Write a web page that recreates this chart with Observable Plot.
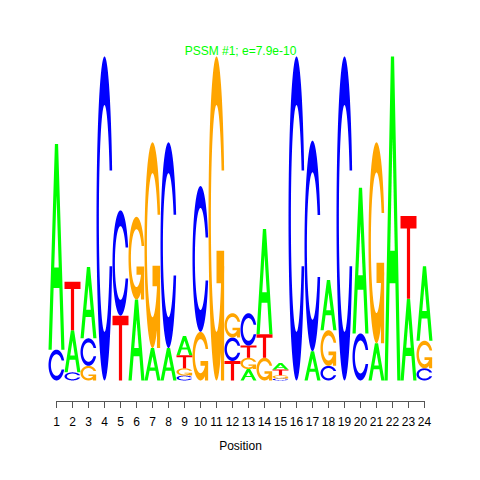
<!DOCTYPE html>
<html><head><meta charset="utf-8">
<script src="https://cdn.jsdelivr.net/npm/d3@7"></script>
<script src="https://cdn.jsdelivr.net/npm/@observablehq/plot@0.6"></script>
<style>body{margin:0;background:#fff}#chart svg{display:block}</style>
</head><body><div id="chart"></div>
<script>
// ---- data (information content in bits, per position) ----
const title = "PSSM #1; e=7.9e-10";
const xLabel = "Position";
const positions = d3.range(1, 25);
const bitsA = [1.27, 0.26, 0.44, 0, 0, 0.50, 0.20, 0.20, 0.12, 0, 0, 0, 0.07, 0.65, 0.04, 0, 0.18, 0.31, 0, 0.90, 0.23, 2.0, 0.505, 0.46];
const bitsC = [0.19, 0.05, 0.17, 2.0, 0.65, 0, 0, 1.27, 0.03, 0.90, 0, 0.145, 0.20, 0, 0.012, 2.0, 1.30, 0.09, 2.0, 0.29, 0, 0, 0, 0.075];
const bitsG = [0, 0, 0.09, 0, 0, 0.51, 1.27, 0, 0.045, 0.30, 2.0, 0.15, 0.07, 0.14, 0.02, 0, 0, 0.22, 0, 0, 1.24, 0, 0, 0.17];
const bitsT = [0, 0.30, 0, 0, 0.40, 0, 0, 0, 0.08, 0, 0, 0.12, 0.075, 0.145, 0.035, 0, 0, 0, 0, 0, 0, 0, 0.51, 0];
const letters = ["A", "C", "G", "T"];
const letterColors = {A: "#00FF00", C: "#0000FF", G: "#FFA500", T: "#FF0000"};
const yMax = 2;
const yMin = -0.13;

// ---- glyph outlines in a unit box ----
function seq(a, b, n) { return d3.range(n).map(i => a + (b - a) * i / (n - 1)); }
function ring() {
  const a1 = seq(0.3 + Math.PI / 2, Math.PI, 100), a2 = seq(Math.PI, 1.5 * Math.PI, 100);
  const xl1 = a1.map(a => 0.5 + 0.5 * Math.sin(a)), yl1 = a1.map(a => 0.5 + 0.5 * Math.cos(a));
  const xl = [...xl1, ...a2.map(a => 0.5 + 0.5 * Math.sin(a))];
  const yl = [...yl1, ...a2.map(a => 0.5 + 0.5 * Math.cos(a))];
  const h = d3.max(yl1);
  let xi1 = a1.map(a => 0.5 + 0.35 * Math.sin(a)), yi1 = a1.map(a => 0.5 + 0.35 * Math.cos(a));
  const keep = yi1.map(v => v <= h);
  xi1 = xi1.filter((_, i) => keep[i]); yi1 = yi1.filter((_, i) => keep[i]); yi1[0] = h;
  const xi = [...xi1, ...a2.map(a => 0.5 + 0.35 * Math.sin(a))];
  const yi = [...yi1, ...a2.map(a => 0.5 + 0.35 * Math.cos(a))];
  const ox = [...xl, ...xl.slice().reverse()];
  const oy = [...yl, ...yl.slice().reverse().map(v => 1 - v)];
  const ix = [...xi, ...xi.slice().reverse()];
  const iy = [...yi, ...yi.slice().reverse().map(v => 1 - v)];
  return {pts: d3.zip([...ox, ...ix.slice().reverse()], [...oy, ...iy.slice().reverse()]), r1: d3.max(xl1)};
}
const R = ring();
const glyphs = {
  A: [
    {white: false, pts: d3.zip([0,4,6,10,8,6.8,3.2,2,0].map(v => v / 10), [0,10,10,0,0,3,3,0,0].map(v => v / 10))},
    {white: true, pts: d3.zip([3.6,5,6.4,3.6].map(v => v / 10), [4,7.5,4,4].map(v => v / 10))}
  ],
  T: [{white: false, pts: d3.zip([0,10,10,6,6,4,4,0].map(v => v / 10), [10,10,8.5,8.5,0,0,8.5,8.5].map(v => v / 10))}],
  C: [{white: false, pts: R.pts}],
  G: [
    {white: false, pts: R.pts},
    {white: false, pts: d3.zip([R.r1, 0.5, 0.5, R.r1 - 0.2, R.r1 - 0.2, R.r1, R.r1], [0.4, 0.4, 0.3, 0.3, 0, 0, 0.4])}
  ]
};

// ---- build stacked letter polygons ----
const bits = {A: bitsA, C: bitsC, G: bitsG, T: bitsT};
const rows = [];
positions.forEach((pos, i) => {
  const stack = letters.map((l, k) => ({l, v: bits[l][i], k})).filter(d => d.v > 0)
    .sort((a, b) => a.v - b.v || a.k - b.k);
  let y0 = 0;
  stack.forEach(({l, v}) => {
    glyphs[l].forEach((poly, p) => {
      const id = `${pos}-${l}-${p}`;
      const color = poly.white ? "#FFFFFF" : letterColors[l];
      poly.pts.forEach(([u, w]) => rows.push({id, color, x: pos - 0.5 + u, y: y0 + w * v}));
    });
    y0 += v;
  });
});

const chart = Plot.plot({
  width: 480,
  height: 480,
  marginLeft: 48,
  marginRight: 48,
  marginTop: 56,
  marginBottom: 79,
  style: {fontFamily: "'Liberation Sans', Arial, Helvetica, sans-serif", fontSize: "12px", background: "#fff"},
  x: {domain: [0.5, 24.5], axis: null},
  y: {domain: [yMin, yMax], axis: null},
  color: {type: "identity"},
  marks: [
    Plot.line(rows, {x: "x", y: "y", z: "id", fill: "color", stroke: "none", curve: "linear"}),
    Plot.ruleY([yMin], {x1: positions[0], x2: positions[positions.length - 1], stroke: "#555", strokeWidth: 1}),
    Plot.axisX({ticks: positions, tickSize: 7, tickPadding: 9, fontSize: 12, label: null, stroke: "#555", tickFormat: d => String(d)}),
    Plot.text([title], {text: d => d, frameAnchor: "top", dy: -5, lineAnchor: "middle", fill: "#00FF00", fontSize: 12}),
    Plot.text([xLabel], {text: d => d, frameAnchor: "bottom", dy: 45, lineAnchor: "middle", fill: "black", fontSize: 12})
  ]
});
document.getElementById("chart").appendChild(chart);
</script>
</body></html>
